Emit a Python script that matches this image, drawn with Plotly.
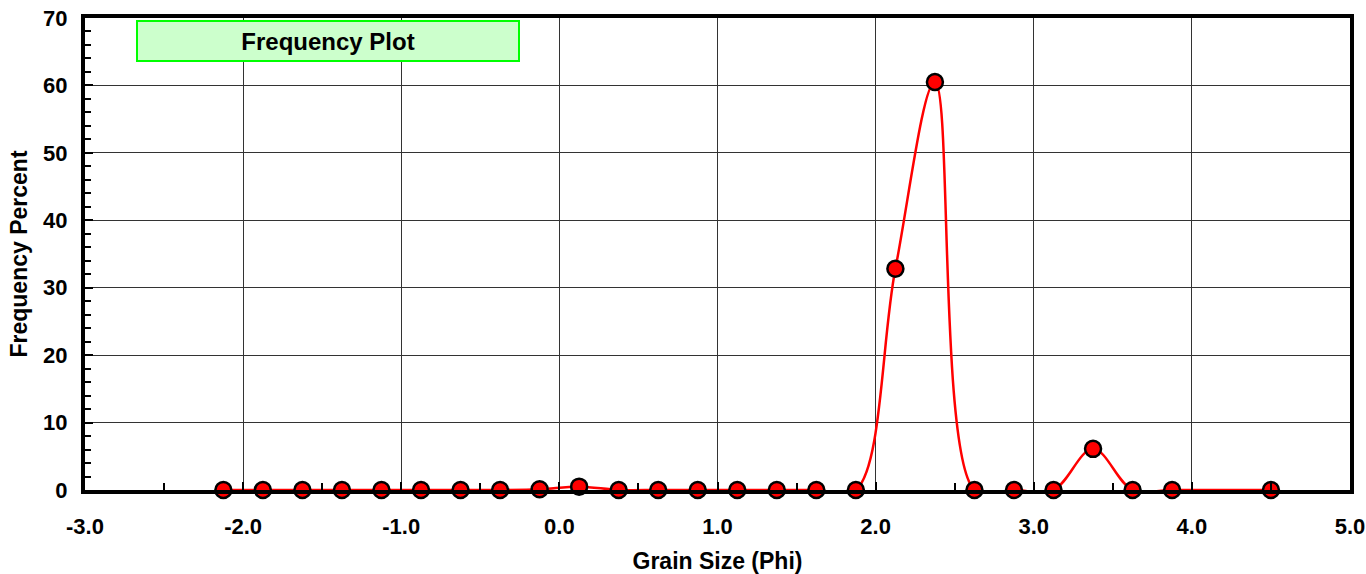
import plotly.graph_objects as go

grain_phi = [-2.125, -1.875, -1.625, -1.375, -1.125, -0.875, -0.625, -0.375,
             -0.125, 0.125, 0.375, 0.625, 0.875, 1.125, 1.375, 1.625, 1.875,
             2.125, 2.375, 2.625, 2.875, 3.125, 3.375, 3.625, 3.875, 4.5]
freq_pct = [0.0, 0.0, 0.0, 0.0, 0.0, 0.0, 0.0, 0.0,
            0.1, 0.5, 0.0, 0.0, 0.0, 0.0, 0.0, 0.0, 0.0,
            32.8, 60.5, 0.0, 0.0, 0.0, 6.1, 0.0, 0.0, 0.0]

x_tick_vals = [-3, -2, -1, 0, 1, 2, 3, 4, 5]
x_tick_text = ["-3.0", "-2.0", "-1.0", "0.0", "1.0", "2.0", "3.0", "4.0", "5.0"]

title_text = "Frequency Plot"
x_title = "Grain Size (Phi)"
y_title = "Frequency Percent"

FONT = "Liberation Sans, Arial, sans-serif"
bold = dict(family=FONT, size=22, color="black", weight="bold")

fig = go.Figure()
fig.add_trace(go.Scatter(
    x=grain_phi, y=freq_pct, mode="lines+markers",
    line=dict(color="#FF0000", width=2.5, shape="spline", smoothing=1.0),
    marker=dict(size=16, color="#FF0000", line=dict(color="#000000", width=2.5)),
    showlegend=False, cliponaxis=False,
))

L, R, T, B = 85, 16, 18, 84
W, H = 1366, 574

fig.update_layout(
    width=W, height=H,
    margin=dict(l=L, r=R, t=T, b=B, autoexpand=False),
    paper_bgcolor="white", plot_bgcolor="white",
    font=dict(family=FONT, size=22, color="black"),
    xaxis=dict(
        range=[-3, 5], tickmode="array", tickvals=x_tick_vals, ticktext=x_tick_text,
        automargin=False,
        showgrid=True, gridcolor="#333333", gridwidth=1,
        showline=True, linecolor="black", linewidth=4, mirror=True,
        ticks="inside", ticklen=8, tickwidth=1.5, tickcolor="black",
        minor=dict(dtick=0.5, tick0=-3, ticks="inside", ticklen=7, tickwidth=1.5,
                   tickcolor="black", showgrid=False),
        zeroline=False, ticklabelstandoff=14,
        tickfont=bold,
        title=dict(text=x_title, font=dict(family=FONT, size=23, color="black", weight="bold"),
                   standoff=22),
    ),
    yaxis=dict(
        range=[0, 70], dtick=10, automargin=False,
        showgrid=True, gridcolor="#333333", gridwidth=1,
        showline=True, linecolor="black", linewidth=4, mirror=True,
        ticks="inside", ticklen=8, tickwidth=1.5, tickcolor="black",
        minor=dict(dtick=2, ticks="inside", ticklen=6, tickwidth=1.5,
                   tickcolor="black", showgrid=False),
        zeroline=False, ticklabelstandoff=9,
        tickfont=bold,
        title=dict(text=y_title, font=dict(family=FONT, size=23, color="black", weight="bold"),
                   standoff=10),
    ),
    annotations=[dict(
        text="<b>" + title_text + "</b>",
        xref="paper", yref="paper",
        x=(328 - L) / (W - L - R), y=(H - B - 41) / (H - B - T),
        xanchor="center", yanchor="middle",
        showarrow=False,
        width=380, height=38,
        bgcolor="#CCFFCC", bordercolor="#00FF00", borderwidth=2, borderpad=0,
        font=dict(family=FONT, size=24, color="black"),
    )],
)

fig.write_html(
    "out.html",
    config={"displayModeBar": False},
    post_script="document.body.style.margin='0';document.body.style.padding='0';"
                "document.documentElement.style.margin='0';",
)
